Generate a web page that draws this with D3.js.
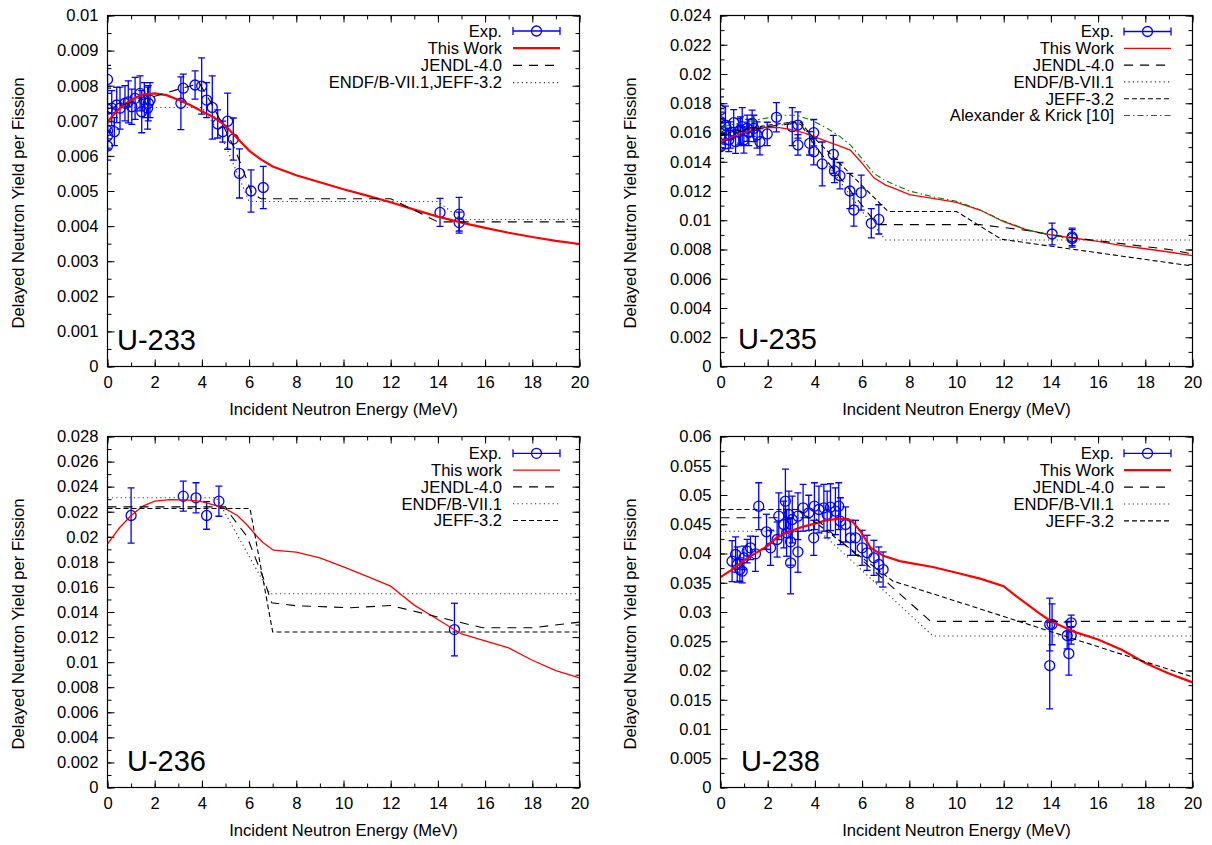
<!DOCTYPE html>
<html><head><meta charset="utf-8">
<script src="https://cdn.jsdelivr.net/npm/d3@7"></script>
<style>
body{margin:0;background:#fff}
svg text{font-family:"Liberation Sans",Arial,Helvetica,sans-serif;fill:#000}
</style>
</head><body>
<svg id="chart" width="1212" height="845"></svg>
<script>
// ---------- shared axis data ----------
const energyTicks = d3.range(0, 21, 2);
const energyMinorTicks = d3.range(0, 21, 1);
const xTitle = "Incident Neutron Energy (MeV)";
const yTitle = "Delayed Neutron Yield per Fission";

// ---------- U-233 ----------
// [E (MeV), yield, error]
const u233Exp = [
  [0,0.00818,0.0004],[0,0.00733,0.0006],[0,0.00672,0.0005],[0,0.00657,0.0004],[0,0.00628,0.0004],
  [0.18,0.00736,0.0005],[0.29,0.00669,0.0004],[0.39,0.00745,0.0005],[0.53,0.00736,0.0006],
  [0.74,0.0075,0.0005],[0.88,0.00754,0.0006],[1.03,0.0074,0.0005],[1.17,0.00764,0.0006],
  [1.38,0.00778,0.0005],[1.45,0.00726,0.0006],[1.56,0.00759,0.0005],[1.7,0.00736,0.0006],
  [1.73,0.0075,0.0005],[1.8,0.00759,0.0005],
  [3.11,0.0075,0.00075],[3.21,0.00793,0.0004],[3.71,0.00802,0.0004],[3.99,0.00799,0.0008],
  [4.2,0.00759,0.0005],[4.44,0.00738,0.0009],[4.67,0.00691,0.0004],[4.88,0.00669,0.0003],
  [5.09,0.00699,0.0008],[5.33,0.00648,0.0006],[5.59,0.0055,0.0007],[6.08,0.005,0.0006],
  [6.6,0.0051,0.0006],
  [14.09,0.00439,0.0004],[14.9,0.00434,0.00048],[14.9,0.0041,0.0003]
];
const u233Work = [[0,0.00698],[0.5,0.00735],[1,0.0076],[1.5,0.00775],[2,0.00778],[2.5,0.00773],[3,0.0076],
  [3.5,0.00745],[4,0.00727],[4.5,0.0071],[5,0.00686],[5.5,0.0065],[6,0.00615],[6.5,0.0059],[7,0.0057],
  [8,0.00545],[9,0.00525],[10,0.00505],[11,0.00487],[12,0.00468],[13,0.00447],[14,0.00427],[15,0.0041],
  [16,0.00395],[17,0.00381],[18,0.00369],[19,0.00358],[20,0.00349]];
const u233Jendl = [[0,0.00734],[1,0.00752],[2,0.0077],[3,0.0079],[3.9,0.00806],[4.4,0.0075],[4.85,0.00693],
  [5.35,0.00626],[5.75,0.0056],[6.1,0.00495],[6.5,0.00478],[12,0.00478],[14,0.00412],[20,0.00412]];
const u233EndfJeff = [[0,0.00738],[4,0.00738],[4.5,0.0069],[5,0.0063],[5.5,0.0055],[6,0.0047],[14,0.0047],
  [15,0.00419],[20,0.00419]];

// ---------- U-235 ----------
const u235Exp = [
  [0,0.01754,0.0009],[0,0.01674,0.0009],[0,0.0166,0.0008],[0,0.0156,0.0008],[0,0.01503,0.0008],
  [0.21,0.01651,0.0013],[0.21,0.0158,0.0009],[0.35,0.01549,0.0008],[0.42,0.01583,0.0009],
  [0.56,0.01667,0.0009],[0.64,0.01537,0.0008],[0.78,0.01606,0.0009],[0.85,0.01617,0.0009],
  [0.92,0.0164,0.0013],[0.99,0.01549,0.0009],[1.13,0.01629,0.0009],[1.2,0.016,0.0009],
  [1.34,0.01663,0.0009],[1.41,0.01628,0.0009],[1.55,0.01583,0.0009],[1.67,0.01537,0.0009],
  [1.98,0.0159,0.0008],[2.37,0.01704,0.001],[3.04,0.0164,0.0013],[3.28,0.01651,0.0009],
  [3.28,0.01515,0.0007],[3.78,0.01526,0.0008],[3.95,0.01599,0.0009],[3.95,0.01469,0.0009],
  [4.31,0.01385,0.0015],[4.78,0.01451,0.0013],[4.83,0.01337,0.0008],[5.06,0.01305,0.0009],
  [5.48,0.012,0.0012],[5.65,0.0107,0.0011],[5.96,0.01189,0.0012],[6.39,0.00979,0.001],
  [6.71,0.01006,0.001],
  [14.05,0.00906,0.00075],[14.9,0.00886,0.0006],[14.9,0.00876,0.0006]
];
const u235Work = [[0,0.01538],[0.5,0.0157],[1,0.016],[1.5,0.0163],[2,0.01636],[2.5,0.01634],[3,0.0162],
  [3.5,0.016],[4,0.0157],[4.5,0.0154],[5,0.0151],[5.5,0.0148],[6,0.0139],[6.5,0.0129],[7,0.0124],
  [7.5,0.0121],[8,0.01175],[9,0.0115],[10,0.01122],[11,0.0107],[12,0.0099],[13,0.00933],[14,0.009],
  [15,0.00877],[16,0.00855],[17,0.00827],[18,0.00805],[19,0.00783],[20,0.00758]];
const u235Jendl = [[0,0.0158],[1,0.0161],[2,0.0164],[3,0.0166],[3.4,0.01655],[4,0.0151],[6.64,0.0097],
  [11,0.0097],[12,0.0095],[13,0.0093],[14,0.009],[15,0.0088],[16,0.0086],[17,0.0084],[18,0.0082],
  [19,0.008],[20,0.0077]];
const u235Endf = [[0,0.016],[1,0.0162],[2,0.0164],[3,0.0166],[3.4,0.0166],[4,0.015],[5,0.0128],
  [6,0.0106],[7,0.00865],[20,0.00865]];
const u235Jeff = [[0,0.0159],[1,0.0162],[2,0.0165],[3,0.0167],[3.4,0.0167],[3.8,0.0159],[7.1,0.0106],
  [10,0.0106],[11.9,0.0087],[20,0.00687]];
const u235Alexander = [[0.1,0.0164],[1,0.0167],[2,0.017],[2.5,0.01718],[3.2,0.01718],[3.8,0.01688],
  [4.5,0.0163],[5,0.0158],[5.5,0.01515],[6,0.0142],[6.5,0.0132],[7,0.0127],[8,0.012],[9,0.0116],
  [10,0.0113],[11,0.0107],[12,0.00995],[13,0.00935],[14,0.009],[14.8,0.0087]];

// ---------- U-236 ----------
const u236Exp = [[1.0,0.0217,0.0022],[3.21,0.02324,0.0012],[3.75,0.02311,0.0012],[4.2,0.0217,0.0011],
  [4.72,0.02284,0.0012],[14.7,0.0126,0.0021]];
const u236Work = [[0,0.01944],[0.5,0.0207],[1,0.0217],[1.5,0.02245],[2,0.02285],[2.65,0.02297],
  [3.3,0.02295],[3.9,0.02284],[4.5,0.02255],[5.05,0.02218],[5.5,0.0217],[5.9,0.02098],[6.3,0.0201],
  [6.6,0.01952],[7.03,0.01893],[8,0.01877],[9,0.01832],[10,0.0176],[11,0.01685],[12,0.01606],
  [12.5,0.0153],[13,0.01455],[14,0.0134],[15,0.01225],[16,0.0117],[17,0.01114],[18,0.01015],
  [19,0.00933],[20,0.00875]];
const u236Jendl = [[0,0.02239],[5,0.02239],[5.2,0.02178],[5.9,0.02005],[6.6,0.01673],[6.96,0.01473],
  [8,0.0145],[10.3,0.01434],[12,0.01452],[14,0.0136],[15.9,0.01274],[18,0.01274],[20,0.01319]];
const u236Endf = [[0,0.02311],[4.62,0.02311],[6.89,0.01545],[20,0.01545]];
const u236Jeff = [[0,0.02226],[6.04,0.02226],[7,0.0124],[20,0.0124]];

// ---------- U-238 ----------
const u238Exp = [
  [0.49,0.03869,0.0035],[0.64,0.03983,0.003],[0.71,0.03812,0.003],[0.82,0.03726,0.002],[0.92,0.03698,0.002],
  [0.99,0.03926,0.002],[1.13,0.0404,0.002],[1.27,0.04097,0.002],[1.48,0.03994,0.003],[1.62,0.04809,0.004],
  [1.95,0.04371,0.003],[2.12,0.04097,0.003],[2.4,0.04239,0.003],[2.47,0.04638,0.004],[2.68,0.04496,0.004],
  [2.75,0.04894,0.0055],[2.8,0.04353,0.004],[2.9,0.04667,0.004],[2.97,0.042,0.004],[2.97,0.03841,0.0053],
  [3.04,0.04581,0.004],[3.28,0.04029,0.0035],[3.28,0.04638,0.004],[3.5,0.04781,0.004],[3.74,0.04696,0.003],
  [3.95,0.04268,0.003],[3.98,0.04809,0.004],[4.17,0.04752,0.004],[4.38,0.04781,0.004],[4.52,0.04667,0.004],
  [4.66,0.04792,0.004],[4.87,0.04723,0.004],[5.01,0.04809,0.004],[5.08,0.04553,0.004],[5.3,0.04496,0.003],
  [5.51,0.04268,0.003],[5.72,0.04268,0.003],[6.0,0.04097,0.003],[6.21,0.04012,0.003],[6.5,0.03926,0.003],
  [6.71,0.03812,0.003],[6.89,0.03726,0.003],
  [13.95,0.02786,0.0045],[14.05,0.0279,0.0035],[13.95,0.02085,0.0074],[14.69,0.02598,0.0023],
  [14.86,0.02815,0.0013],[14.86,0.026,0.0015],[14.76,0.0229,0.0037]
];
const u238Work = [[0,0.03595],[0.5,0.0373],[1,0.0388],[1.5,0.0401],[2,0.0413],[2.4,0.0428],[3,0.0439],
  [3.5,0.0446],[4,0.0451],[4.5,0.0457],[5,0.04593],[5.4,0.0459],[5.6,0.0454],[5.93,0.0438],[6.36,0.041],
  [6.9,0.0396],[7.6,0.0387],[8,0.0384],[9,0.0377],[10,0.0367],[11,0.0357],[12,0.0344],[12.5,0.0328],
  [13,0.0313],[13.5,0.0298],[14,0.02843],[15,0.0266],[16,0.0253],[17,0.02355],[18,0.0213],[19,0.0195],
  [20,0.01797]];
const u238Jendl = [[0,0.0461],[4,0.0461],[8.9,0.0284],[20,0.0284]];
const u238Endf = [[0,0.0438],[4.2,0.0438],[9,0.0259],[20,0.0259]];
const u238Jeff = [[0,0.04752],[3.3,0.04752],[7.3,0.0353],[20,0.0189]];

// ---------- styles ----------
const ST = {
  exp:{color:"#0000ff"},
  work:{color:"#ff0000"},
  jendl:{color:"#000", dash:"9,7", width:1.1},
  endf:{color:"#333", dash:"1.2,3.2", width:1.1},
  jeff:{color:"#000", dash:"5,3", width:1.1},
  alex:{color:"#008000", dash:"6,3,1.5,3", width:1.1}
};

const panels = [
  {label:"U-233", box:[107.5,15.5,579.5,366.5], yMax:0.01, yMajor:0.001, yMinor:0.0005,
   labelPos:[117,350], ytitle:[24,203], xtitleY:415, legend:{right:502, sx0:513, sx1:560, top:31, dy:17.2},
   series:[
     {name:"Exp.", type:"exp", data:u233Exp, st:ST.exp},
     {name:"This Work", data:u233Work, st:Object.assign({width:2.2},ST.work)},
     {name:"JENDL-4.0", data:u233Jendl, st:ST.jendl},
     {name:"ENDF/B-VII.1,JEFF-3.2", data:u233EndfJeff, st:ST.endf}]},
  {label:"U-235", box:[720.5,15.5,1192.5,366.5], yMax:0.024, yMajor:0.002, yMinor:0.001,
   labelPos:[738,349], ytitle:[636,203], xtitleY:415, legend:{right:1114, sx0:1124, sx1:1171, top:31.5, dy:16.8},
   series:[
     {name:"Exp.", type:"exp", data:u235Exp, st:ST.exp},
     {name:"This Work", data:u235Work, st:Object.assign({width:1.3},ST.work)},
     {name:"JENDL-4.0", data:u235Jendl, st:ST.jendl},
     {name:"ENDF/B-VII.1", data:u235Endf, st:ST.endf},
     {name:"JEFF-3.2", data:u235Jeff, st:ST.jeff},
     {name:"Alexander & Krick [10]", data:u235Alexander, st:ST.alex}]},
  {label:"U-236", box:[107.5,436.5,579.5,787.5], yMax:0.028, yMajor:0.002, yMinor:0.001,
   labelPos:[127,771], ytitle:[24,624], xtitleY:836, legend:{right:502, sx0:513, sx1:560, top:453.3, dy:16.8},
   series:[
     {name:"Exp.", type:"exp", data:u236Exp, st:ST.exp},
     {name:"This work", data:u236Work, st:Object.assign({width:1.3},ST.work)},
     {name:"JENDL-4.0", data:u236Jendl, st:ST.jendl},
     {name:"ENDF/B-VII.1", data:u236Endf, st:ST.endf},
     {name:"JEFF-3.2", data:u236Jeff, st:ST.jeff}]},
  {label:"U-238", box:[720.5,436.5,1192.5,787.5], yMax:0.06, yMajor:0.005, yMinor:0.0025,
   labelPos:[741,771], ytitle:[636,624], xtitleY:836, legend:{right:1114, sx0:1124, sx1:1171, top:453.3, dy:16.9},
   series:[
     {name:"Exp.", type:"exp", data:u238Exp, st:ST.exp},
     {name:"This Work", data:u238Work, st:Object.assign({width:2.2},ST.work)},
     {name:"JENDL-4.0", data:u238Jendl, st:ST.jendl},
     {name:"ENDF/B-VII.1", data:u238Endf, st:ST.endf},
     {name:"JEFF-3.2", data:u238Jeff, st:ST.jeff}]}
];

const svg = d3.select("#chart");
const FONT = 16.6;
const fmtY = d => d === 0 ? "0" : String(+d.toFixed(4));

panels.forEach((p, i) => {
  const [L, T, R, B] = p.box;
  const x = d3.scaleLinear().domain([0, 20]).range([L, R]);
  const y = d3.scaleLinear().domain([0, p.yMax]).range([B, T]);
  const g = svg.append("g");
  const clipId = "clip" + i;
  g.append("clipPath").attr("id", clipId).append("rect")
    .attr("x", L).attr("y", T).attr("width", R - L).attr("height", B - T);

  const nMaj = Math.round(p.yMax / p.yMajor);
  const yMajorTicks = d3.range(0, nMaj + 1).map(k => +(k * p.yMajor).toFixed(5));
  const nMin = Math.round(p.yMax / p.yMinor);
  const yMinorTicks = d3.range(0, nMin + 1).map(k => +(k * p.yMinor).toFixed(5));

  function styleAxis(sel) {
    sel.select(".domain").remove();
    sel.selectAll("line").attr("stroke", "#000").attr("stroke-width", 1);
    sel.selectAll("text").attr("font-size", FONT).attr("font-family", null).attr("fill", "#000");
    sel.attr("font-family", null).attr("font-size", FONT);
  }
  // minor ticks
  g.append("g").attr("transform", `translate(0,${B})`)
    .call(d3.axisBottom(x).tickValues(energyMinorTicks).tickSize(-4).tickFormat("")).call(styleAxis);
  g.append("g").attr("transform", `translate(0,${T})`)
    .call(d3.axisTop(x).tickValues(energyMinorTicks).tickSize(-4).tickFormat("")).call(styleAxis);
  g.append("g").attr("transform", `translate(${L},0)`)
    .call(d3.axisLeft(y).tickValues(yMinorTicks).tickSize(-4).tickFormat("")).call(styleAxis);
  g.append("g").attr("transform", `translate(${R},0)`)
    .call(d3.axisRight(y).tickValues(yMinorTicks).tickSize(-4).tickFormat("")).call(styleAxis);
  // major ticks with labels
  g.append("g").attr("transform", `translate(0,${B})`)
    .call(d3.axisBottom(x).tickValues(energyTicks).tickSize(-7).tickPadding(10).tickFormat(d3.format("d"))).call(styleAxis);
  g.append("g").attr("transform", `translate(0,${T})`)
    .call(d3.axisTop(x).tickValues(energyTicks).tickSize(-7).tickFormat("")).call(styleAxis);
  g.append("g").attr("transform", `translate(${L},0)`)
    .call(d3.axisLeft(y).tickValues(yMajorTicks).tickSize(-7).tickPadding(9).tickFormat(fmtY)).call(styleAxis);
  g.append("g").attr("transform", `translate(${R},0)`)
    .call(d3.axisRight(y).tickValues(yMajorTicks).tickSize(-7).tickFormat("")).call(styleAxis);

  // titles
  g.append("text").attr("x", (L + R) / 2).attr("y", p.xtitleY).attr("text-anchor", "middle")
    .attr("font-size", FONT).text(xTitle);
  g.append("text").attr("transform", `translate(${p.ytitle[0]},${p.ytitle[1]}) rotate(-90)`)
    .attr("text-anchor", "middle").attr("font-size", FONT).text(yTitle);
  g.append("text").attr("x", p.labelPos[0]).attr("y", p.labelPos[1]).attr("font-size", 29).text(p.label);

  const plot = g.append("g").attr("clip-path", `url(#${clipId})`);
  const line = d3.line().x(d => x(d[0])).y(d => y(d[1]));

  p.series.forEach((s, si) => {
    if (s.type === "exp") {
      const eg = plot.append("g").attr("stroke", s.st.color).attr("fill", "none").attr("stroke-width", 1.3);
      const pts = eg.selectAll("g.pt").data(s.data).join("g").attr("class", "pt");
      pts.append("line").attr("x1", d => x(d[0])).attr("x2", d => x(d[0]))
        .attr("y1", d => y(d[1] - d[2])).attr("y2", d => y(d[1] + d[2]));
      pts.append("line").attr("x1", d => x(d[0]) - 3.5).attr("x2", d => x(d[0]) + 3.5)
        .attr("y1", d => y(d[1] - d[2])).attr("y2", d => y(d[1] - d[2]));
      pts.append("line").attr("x1", d => x(d[0]) - 3.5).attr("x2", d => x(d[0]) + 3.5)
        .attr("y1", d => y(d[1] + d[2])).attr("y2", d => y(d[1] + d[2]));
      pts.append("circle").attr("cx", d => x(d[0])).attr("cy", d => y(d[1])).attr("r", 5);
    } else {
      plot.append("path").datum(s.data).attr("d", line).attr("fill", "none")
        .attr("stroke", s.st.color).attr("stroke-width", s.st.width || 1)
        .attr("stroke-dasharray", s.st.dash || null);
    }
    // legend
    const ly = p.legend.top + si * p.legend.dy;
    g.append("text").attr("x", p.legend.right).attr("y", ly + 5.8).attr("text-anchor", "end")
      .attr("font-size", FONT).text(s.name);
    const lg = g.append("g");
    if (s.type === "exp") {
      lg.attr("stroke", s.st.color).attr("stroke-width", 1.3).attr("fill", "none");
      lg.append("line").attr("x1", p.legend.sx0).attr("x2", p.legend.sx1).attr("y1", ly).attr("y2", ly);
      lg.append("line").attr("x1", p.legend.sx0).attr("x2", p.legend.sx0).attr("y1", ly - 4).attr("y2", ly + 4);
      lg.append("line").attr("x1", p.legend.sx1).attr("x2", p.legend.sx1).attr("y1", ly - 4).attr("y2", ly + 4);
      lg.append("circle").attr("cx", (p.legend.sx0 + p.legend.sx1) / 2).attr("cy", ly).attr("r", 5);
    } else {
      lg.append("line").attr("x1", p.legend.sx0).attr("x2", p.legend.sx1).attr("y1", ly).attr("y2", ly)
        .attr("stroke", s.st.color).attr("stroke-width", s.st.width || 1)
        .attr("stroke-dasharray", s.st.dash || null);
    }
  });

  // frame
  g.append("rect").attr("x", L).attr("y", T).attr("width", R - L).attr("height", B - T)
    .attr("fill", "none").attr("stroke", "#000").attr("stroke-width", 1.2);
});
</script>
</body></html>
